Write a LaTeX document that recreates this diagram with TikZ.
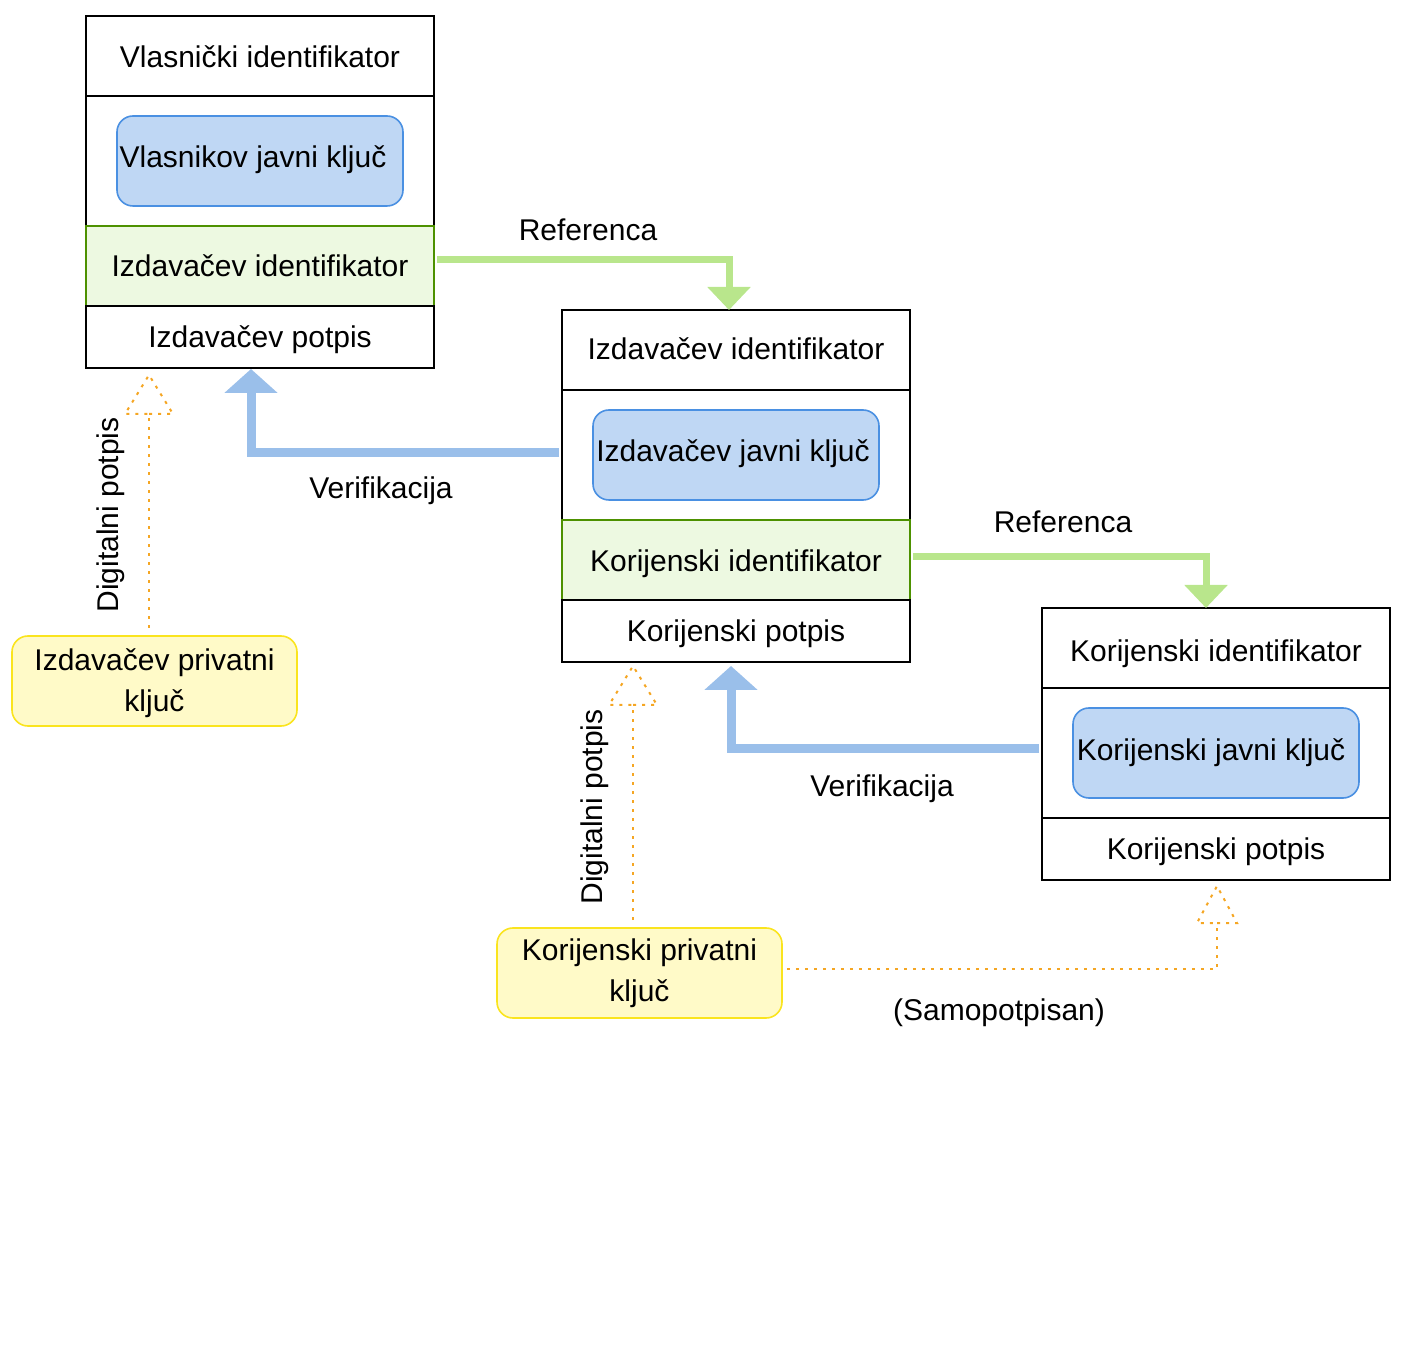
\documentclass[tikz,border=0pt]{standalone}
\usepackage{fontspec}
\setmainfont{Liberation Sans}
\usetikzlibrary{arrows.meta,calc}
\definecolor{refgreen}{RGB}{185,230,140}
\definecolor{idfill}{RGB}{237,249,225}
\definecolor{idborder}{RGB}{77,145,0}
\definecolor{keyfill}{RGB}{191,215,244}
\definecolor{keyborder}{RGB}{74,144,226}
\definecolor{verblue}{RGB}{154,191,234}
\definecolor{privfill}{RGB}{255,250,200}
\definecolor{privborder}{RGB}{250,228,30}
\definecolor{sigorange}{RGB}{245,166,35}
\tikzset{
  cell/.style={draw=black, line width=1pt, fill=white, minimum width=174pt, inner sep=0pt, text depth=3pt, font=\fontsize{15pt}{20pt}\selectfont},
  idcell/.style={cell, draw=idborder, fill=idfill},
  pubkey/.style={draw=keyborder, line width=0.8pt, fill=keyfill, rounded corners=8pt, minimum width=143pt, minimum height=45pt, inner sep=0pt, text depth=3pt, font=\fontsize{15pt}{20pt}\selectfont},
  privkey/.style={draw=privborder, line width=0.8pt, fill=privfill, rounded corners=8pt, minimum width=142.5pt, minimum height=45pt, inner sep=0pt, align=center, font=\fontsize{15pt}{20.5pt}\selectfont},
  lbl/.style={font=\fontsize{15pt}{20pt}\selectfont, inner sep=0pt},
  refarrow/.style={draw=refgreen, line width=3.5pt, -{Triangle[length=11.5pt,width=21pt]}},
  verarrow/.style={draw=verblue, line width=4.5pt, -{Triangle[length=12pt,width=26pt]}},
  sigline/.style={draw=sigorange, line width=1pt, dash pattern=on 1.5pt off 3pt},
  sighead/.style={draw=sigorange, line width=1pt, dash pattern=on 1.5pt off 3pt}
}
\begin{document}
\begin{tikzpicture}[x=0.5pt,y=-0.5pt]
\useasboundingbox (0,0) rectangle (1404,1352);
% Certificate 1
\node[cell, minimum height=40pt, text height=14.3pt] (b1t) at (260,56) {Vlasnički identifikator};
\node[cell, minimum height=65pt] (b1k) at (260,161) {};
\node[idcell, minimum height=40pt, text height=13.7pt] (b1i) at (260,266) {Izdavačev identifikator};
\node[cell, minimum height=31pt, text height=13.2pt] (b1s) at (260,337) {Izdavačev potpis};
\node[pubkey, text height=9.5pt] (k1) at (260,161) {\hspace*{-7pt}Vlasnikov javni ključ};
% Certificate 2
\node[cell, minimum height=40pt, text height=13pt] (b2t) at (736,350) {Izdavačev identifikator};
\node[cell, minimum height=65pt] (b2k) at (736,455) {};
\node[idcell, minimum height=40pt, text height=14.7pt] (b2i) at (736,560) {Korijenski identifikator};
\node[cell, minimum height=31pt, text height=13.7pt] (b2s) at (736,631) {Korijenski potpis};
\node[pubkey, text height=9.7pt] (k2) at (736,455) {\hspace*{-3pt}Izdavačev javni ključ};
% Certificate 3
\node[cell, minimum height=40pt, text height=17pt] (b3t) at (1216,648) {Korijenski identifikator};
\node[cell, minimum height=65pt] (b3k) at (1216,753) {};
\node[cell, minimum height=31pt, text height=14pt] (b3s) at (1216,849) {Korijenski potpis};
\node[pubkey, text height=10.3pt] (k3) at (1216,753) {\hspace*{-5pt}Korijenski javni ključ};
% Private keys
\node[privkey] (p1) at (154.5,681) {\rule{0pt}{13.3pt}Izdavačev privatni\\ključ};
\node[privkey] (p2) at (639.5,973) {Korijenski privatni\\ključ};
% Reference arrows
\coordinate (r1a) at ($(b1i.east)+(2,-6)$);
\coordinate (r1b) at (729,310);
\draw[refarrow] (r1a) -| (r1b);
\coordinate (r2a) at ($(b2i.east)+(2,-3)$);
\coordinate (r2b) at (1206,608);
\draw[refarrow] (r2a) -| (r2b);
\node[lbl] (lr1) at (588,230) {Referenca};
\node[lbl] (lr2) at (1063,522) {Referenca};
% Verification arrows
\coordinate (v1a) at ($(b2k.west)+(-2,-2.5)$);
\coordinate (v1b) at (251,369);
\draw[verarrow] (v1a) -| (v1b);
\coordinate (v2a) at ($(b3k.west)+(-2,-4)$);
\coordinate (v2b) at (731,666);
\draw[verarrow] (v2a) -| (v2b);
\node[lbl] (lv1) at (381,491) {Verifikacija};
\node[lbl] (lv2) at (882,789) {Verifikacija};
% Digital signature (dotted) arrows
\coordinate (s1a) at (149,628);
\coordinate (s1b) at (149,414);
\draw[sigline] (s1a) -- (s1b);
\draw[sighead] (s1b) -- ++(24,0) -- (149,375) -- (125,414) -- cycle;
\node[lbl, rotate=90] (ld1) at (111,515) {Digitalni potpis};
\coordinate (s2a) at (633,920);
\coordinate (s2b) at (633,705);
\draw[sigline] (s2a) -- (s2b);
\draw[sighead] (s2b) -- ++(24,0) -- (633,666) -- (609,705) -- cycle;
\node[lbl, rotate=90] (ld2) at (595,807) {Digitalni potpis};
\coordinate (s3a) at ($(p2.east)+(4,-4)$);
\coordinate (s3b) at (1217,923);
\draw[sigline] (s3a) -| (s3b);
\draw[sighead] (s3b) -- ++(20,0) -- (1217,886) -- (1197,923) -- cycle;
\node[lbl] (ls) at (999,1013) {(Samopotpisan)};
\end{tikzpicture}
\end{document}
